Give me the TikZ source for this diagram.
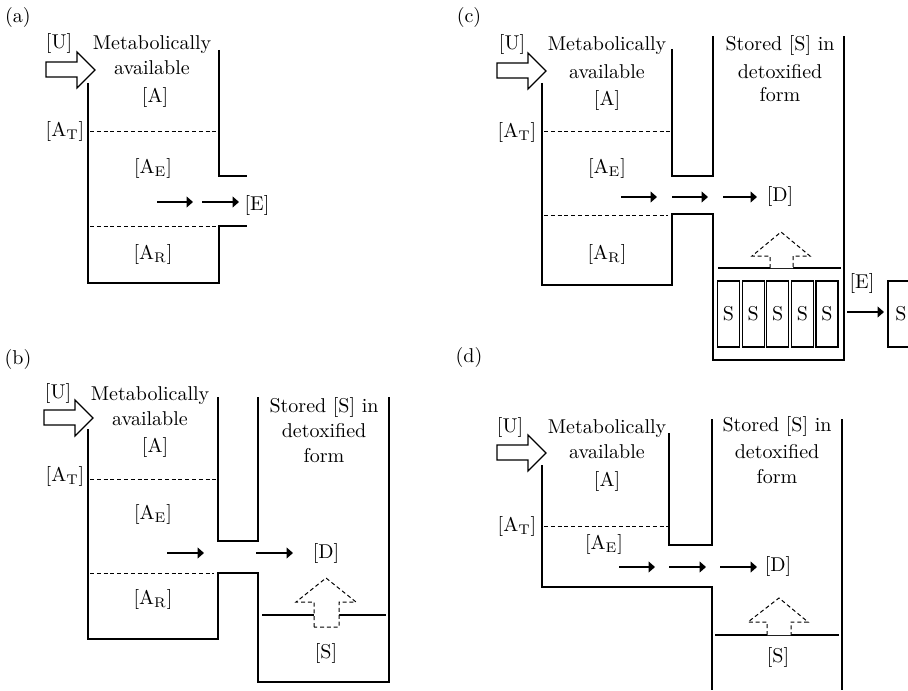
\documentclass[tikz,border=0pt]{standalone}
\usepackage{tikz}
\usetikzlibrary{arrows.meta}

\begin{document}
\begin{tikzpicture}[
      x=0.5pt, y=-0.5pt,
      wall/.style={line width=0.9pt},
      dashlvl/.style={line width=0.5pt, dash pattern=on 2pt off 1.4pt},
      flow/.style={-{Triangle[length=3.2pt,width=5.4pt]}, line width=0.7pt},
      hollow/.style={line width=0.6pt, fill=white},
      dashhollow/.style={line width=0.5pt, dash pattern=on 2pt off 1.4pt, fill=white},
      txt/.style={font=\fontsize{10}{12}\selectfont, inner sep=0pt, anchor=base},
      sbox/.style={draw, line width=0.6pt, minimum width=11pt, minimum height=33pt,
                   inner sep=0pt, font=\fontsize{10}{12}\selectfont}
    ]
      \useasboundingbox (0,0) rectangle (908,690);

      % inflow arrows [U]
      \foreach \dx/\dy in {0/0, -2/348, 451/1, 451/383}
        \draw[hollow, shift={(\dx,\dy)}] (46,62) -- (77,62) -- (77,52) -- (95,70)
              -- (77,88) -- (77,77) -- (46,77) -- cycle;

      % (a)
      \node[txt] (lbl-a) at (18,23) {(a)};
      \node[txt] (U-a) at (59,49) {[U]};
      \node[txt] (meta-a) at (152,50) {Metabolically};
      \node[txt] (avail-a) at (152,75) {available};
      \node[txt] (A-a) at (155,103) {[A]};
      \node[txt] (AT-a) at (65,136) {[A$_{\mathrm{T}}$]};
      \node[txt] (AE-a) at (153,173) {[A$_{\mathrm{E}}$]};
      \node[txt] (E-a) at (257,210) {[E]};
      \node[txt] (AR-a) at (153,259) {[A$_{\mathrm{R}}$]};
      \draw[wall] (88,83) -- (88,283) -- (219,283) -- (219,226) -- (247,226);
      \draw[wall] (219,50) -- (219,176) -- (247,176);
      \draw[dashlvl] (90,131) -- (219,131);
      \draw[dashlvl] (90,226) -- (219,226);
      \coordinate (fa1) at (157,202);
      \coordinate (fa2) at (193,202);
      \coordinate (fa3) at (202,202);
      \coordinate (fa4) at (239,202);
      \draw[flow] (fa1) -- (fa2);
      \draw[flow] (fa3) -- (fa4);

      % (b)
      \node[txt] (lbl-b) at (18,364) {(b)};
      \node[txt] (U-b) at (58,398) {[U]};
      \node[txt] (meta-b) at (150,400) {Metabolically};
      \node[txt] (avail-b) at (150,425) {available};
      \node[txt] (A-b) at (155,452) {[A]};
      \node[txt] (AT-b) at (65,481) {[A$_{\mathrm{T}}$]};
      \node[txt] (AE-b) at (153,519) {[A$_{\mathrm{E}}$]};
      \node[txt] (AR-b) at (153,604) {[A$_{\mathrm{R}}$]};
      \node[txt] (st1-b) at (324,412) {Stored [S] in};
      \node[txt] (st2-b) at (324,437) {detoxified};
      \node[txt] (st3-b) at (324,462) {form};
      \node[txt] (D-b) at (326,558) {[D]};
      \node[txt] (S-b) at (326,658) {[S]};
      \draw[wall] (88,429) -- (88,639) -- (218,639) -- (218,573) -- (258,573)
            -- (258,682) -- (389,682) -- (389,397);
      \draw[wall] (218,397) -- (218,541) -- (258,541) -- (258,397);
      \draw[dashlvl] (90,479) -- (218,479);
      \draw[dashlvl] (90,573) -- (214,573);
      \draw[wall] (262,615) -- (386,615);
      \draw[dashhollow] (314,627) -- (314,602) -- (296,602) -- (326,578) -- (356,602)
            -- (339,602) -- (339,627) -- cycle;
      \coordinate (fb1) at (167,553);
      \coordinate (fb2) at (204,553);
      \coordinate (fb3) at (256,553);
      \coordinate (fb4) at (293,553);
      \draw[flow] (fb1) -- (fb2);
      \draw[flow] (fb3) -- (fb4);

      % (c)
      \node[txt] (lbl-c) at (469,23) {(c)};
      \node[txt] (U-c) at (512,50) {[U]};
      \node[txt] (meta-c) at (607,51) {Metabolically};
      \node[txt] (avail-c) at (607,78) {available};
      \node[txt] (A-c) at (607,105) {[A]};
      \node[txt] (AT-c) at (517,137) {[A$_{\mathrm{T}}$]};
      \node[txt] (AE-c) at (607,173) {[A$_{\mathrm{E}}$]};
      \node[txt] (AR-c) at (607,259) {[A$_{\mathrm{R}}$]};
      \node[txt] (st1-c) at (780,51) {Stored [S] in};
      \node[txt] (st2-c) at (780,78) {detoxified};
      \node[txt] (st3-c) at (780,102) {form};
      \node[txt] (D-c) at (780,201) {[D]};
      \node[txt] (E-c) at (862,288) {[E]};
      \draw[wall] (542,83) -- (542,285) -- (672,285) -- (672,214) -- (713,214)
            -- (713,360) -- (844,360) -- (844,36);
      \draw[wall] (672,49) -- (672,176) -- (713,176) -- (713,36);
      \draw[dashlvl] (544,131) -- (672,131);
      \draw[dashlvl] (544,215) -- (668,215);
      \draw[wall] (718,268) -- (841,268);
      \draw[dashhollow] (770,268) -- (770,256) -- (752,256) -- (781,232) -- (810,256)
            -- (793,256) -- (793,268);
      \foreach \i in {0,...,4}
        \node[sbox] (s\i-c) at (728.5+24.6*\i,314) {S};
      \draw[line width=0.6pt] (908,281) -- (888,281) -- (888,347) -- (908,347);
      \node[txt, anchor=center] (S-out) at (901,314) {S};
      \coordinate (fc1) at (621,197);
      \coordinate (fc2) at (657,197);
      \coordinate (fc3) at (672,197);
      \coordinate (fc4) at (708,197);
      \coordinate (fc5) at (723,197);
      \coordinate (fc6) at (757,197);
      \coordinate (fc7) at (847,312);
      \coordinate (fc8) at (884,312);
      \draw[flow] (fc1) -- (fc2);
      \draw[flow] (fc3) -- (fc4);
      \draw[flow] (fc5) -- (fc6);
      \draw[flow] (fc7) -- (fc8);

      % (d)
      \node[txt] (lbl-d) at (469,362) {(d)};
      \node[txt] (U-d) at (510,432) {[U]};
      \node[txt] (meta-d) at (607,433) {Metabolically};
      \node[txt] (avail-d) at (607,458) {available};
      \node[txt] (A-d) at (607,486) {[A]};
      \node[txt] (AT-d) at (517,531) {[A$_{\mathrm{T}}$]};
      \node[txt] (AE-d) at (604,549) {[A$_{\mathrm{E}}$]};
      \node[txt] (st1-d) at (777,431) {Stored [S] in};
      \node[txt] (st2-d) at (777,458) {detoxified};
      \node[txt] (st3-d) at (777,483) {form};
      \node[txt] (D-d) at (778,571) {[D]};
      \node[txt] (S-d) at (778,662) {[S]};
      \draw[wall] (542,465) -- (542,587) -- (712,587) -- (712,690);
      \draw[wall] (669,433) -- (669,545) -- (712,545) -- (712,419);
      \draw[wall] (842,419) -- (842,690);
      \draw[dashlvl] (544,526) -- (669,526);
      \draw[wall] (715,635) -- (839,635);
      \draw[dashhollow] (767,635) -- (767,622) -- (748,622) -- (779,598) -- (808,622)
            -- (791,622) -- (791,635);
      \coordinate (fd1) at (619,567);
      \coordinate (fd2) at (655,567);
      \coordinate (fd3) at (669,567);
      \coordinate (fd4) at (706,567);
      \coordinate (fd5) at (720,567);
      \coordinate (fd6) at (757,567);
      \draw[flow] (fd1) -- (fd2);
      \draw[flow] (fd3) -- (fd4);
      \draw[flow] (fd5) -- (fd6);
    \end{tikzpicture}
\end{document}
